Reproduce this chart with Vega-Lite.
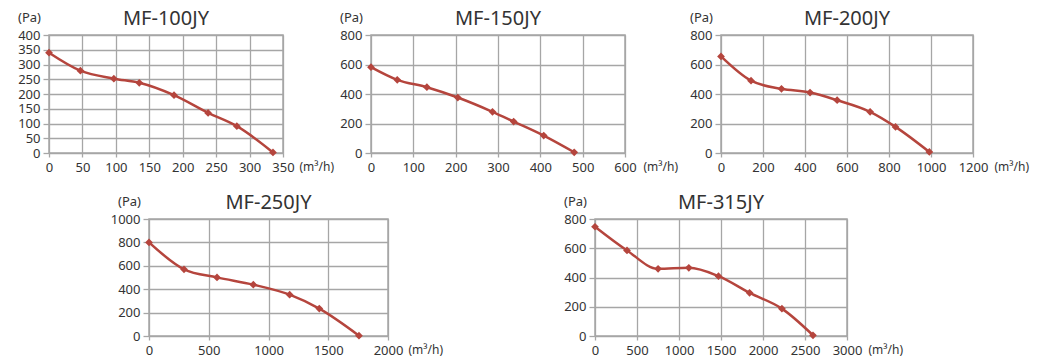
{
  "$schema": "https://vega.github.io/schema/vega-lite/v6.json",
  "padding": {"left": 9, "top": 8, "right": 0, "bottom": 0},
  "background": "white",
  "datasets": {
    "mf100": [
      {"flow": 0, "pressure": 340}, {"flow": 47, "pressure": 279}, {"flow": 97, "pressure": 252},
      {"flow": 135, "pressure": 238}, {"flow": 187, "pressure": 196}, {"flow": 238, "pressure": 136},
      {"flow": 281, "pressure": 91}, {"flow": 335, "pressure": 2}
    ],
    "mf150": [
      {"flow": 0, "pressure": 582}, {"flow": 62, "pressure": 496}, {"flow": 132, "pressure": 446},
      {"flow": 205, "pressure": 376}, {"flow": 287, "pressure": 279}, {"flow": 337, "pressure": 213},
      {"flow": 408, "pressure": 118}, {"flow": 480, "pressure": 5}
    ],
    "mf200": [
      {"flow": 0, "pressure": 655}, {"flow": 143, "pressure": 490}, {"flow": 288, "pressure": 435},
      {"flow": 424, "pressure": 410}, {"flow": 553, "pressure": 358}, {"flow": 710, "pressure": 279},
      {"flow": 831, "pressure": 177}, {"flow": 992, "pressure": 7}
    ],
    "mf250": [
      {"flow": 0, "pressure": 800}, {"flow": 293, "pressure": 570}, {"flow": 569, "pressure": 501},
      {"flow": 873, "pressure": 439}, {"flow": 1177, "pressure": 353}, {"flow": 1425, "pressure": 234},
      {"flow": 1757, "pressure": 3}
    ],
    "mf315": [
      {"flow": 0, "pressure": 747}, {"flow": 381, "pressure": 585}, {"flow": 751, "pressure": 459},
      {"flow": 1117, "pressure": 466}, {"flow": 1470, "pressure": 409}, {"flow": 1840, "pressure": 295},
      {"flow": 2225, "pressure": 187}, {"flow": 2595, "pressure": 5}
    ]
  },
  "vconcat": [
    {
      "bounds": "flush",
      "spacing": 0,
      "hconcat": [
        {"width": 40, "height": 118, "data": {"values": []}, "mark": "point", "encoding": {}, "view": {"stroke": null}},
        {
          "title": "MF-100JY",
          "width": 234, "height": 118,
          "data": {"name": "mf100"},
          "encoding": {
            "x": {"field": "flow", "type": "quantitative", "scale": {"domain": [0, 350], "nice": false},
              "axis": {"values": [0, 50, 100, 150, 200, 250, 300, 350], "title": "(m³/h)", "titleX": 250, "titleY": 8}},
            "y": {"field": "pressure", "type": "quantitative", "scale": {"domain": [0, 400], "nice": false},
              "axis": {"values": [0, 50, 100, 150, 200, 250, 300, 350, 400], "title": "(Pa)"}}
          },
          "layer": [
            {"mark": {"type": "line", "interpolate": "monotone", "color": "#b5453d", "strokeWidth": 2.5}},
            {"mark": {"type": "point", "shape": "diamond", "filled": true, "size": 60, "color": "#b5453d", "opacity": 1}}
          ]
        },
        {"width": 88, "height": 118, "data": {"values": []}, "mark": "point", "encoding": {}, "view": {"stroke": null}},
        {
          "title": "MF-150JY",
          "width": 254, "height": 118,
          "data": {"name": "mf150"},
          "encoding": {
            "x": {"field": "flow", "type": "quantitative", "scale": {"domain": [0, 600], "nice": false},
              "axis": {"values": [0, 100, 200, 300, 400, 500, 600], "title": "(m³/h)", "titleX": 272, "titleY": 8}},
            "y": {"field": "pressure", "type": "quantitative", "scale": {"domain": [0, 800], "nice": false},
              "axis": {"values": [0, 200, 400, 600, 800], "title": "(Pa)"}}
          },
          "layer": [
            {"mark": {"type": "line", "interpolate": "monotone", "color": "#b5453d", "strokeWidth": 2.5}},
            {"mark": {"type": "point", "shape": "diamond", "filled": true, "size": 60, "color": "#b5453d", "opacity": 1}}
          ]
        },
        {"width": 96, "height": 118, "data": {"values": []}, "mark": "point", "encoding": {}, "view": {"stroke": null}},
        {
          "title": "MF-200JY",
          "width": 252, "height": 118,
          "data": {"name": "mf200"},
          "encoding": {
            "x": {"field": "flow", "type": "quantitative", "scale": {"domain": [0, 1200], "nice": false},
              "axis": {"values": [0, 200, 400, 600, 800, 1000, 1200], "title": "(m³/h)", "titleX": 273, "titleY": 8}},
            "y": {"field": "pressure", "type": "quantitative", "scale": {"domain": [0, 800], "nice": false},
              "axis": {"values": [0, 200, 400, 600, 800], "title": "(Pa)"}}
          },
          "layer": [
            {"mark": {"type": "line", "interpolate": "monotone", "color": "#b5453d", "strokeWidth": 2.5}},
            {"mark": {"type": "point", "shape": "diamond", "filled": true, "size": 60, "color": "#b5453d", "opacity": 1}}
          ]
        }
      ]
    },
    {
      "bounds": "flush",
      "spacing": 0,
      "hconcat": [
        {"width": 140, "height": 117, "data": {"values": []}, "mark": "point", "encoding": {}, "view": {"stroke": null}},
        {
          "title": "MF-250JY",
          "width": 239, "height": 117,
          "data": {"name": "mf250"},
          "encoding": {
            "x": {"field": "flow", "type": "quantitative", "scale": {"domain": [0, 2000], "nice": false},
              "axis": {"values": [0, 500, 1000, 1500, 2000], "title": "(m³/h)", "titleX": 259, "titleY": 8}},
            "y": {"field": "pressure", "type": "quantitative", "scale": {"domain": [0, 1000], "nice": false},
              "axis": {"values": [0, 200, 400, 600, 800, 1000], "title": "(Pa)"}}
          },
          "layer": [
            {"mark": {"type": "line", "interpolate": "monotone", "color": "#b5453d", "strokeWidth": 2.5}},
            {"mark": {"type": "point", "shape": "diamond", "filled": true, "size": 60, "color": "#b5453d", "opacity": 1}}
          ]
        },
        {"width": 207, "height": 117, "data": {"values": []}, "mark": "point", "encoding": {}, "view": {"stroke": null}},
        {
          "title": "MF-315JY",
          "width": 252, "height": 117,
          "data": {"name": "mf315"},
          "encoding": {
            "x": {"field": "flow", "type": "quantitative", "scale": {"domain": [0, 3000], "nice": false},
              "axis": {"values": [0, 500, 1000, 1500, 2000, 2500, 3000], "title": "(m³/h)", "titleX": 273, "titleY": 8}},
            "y": {"field": "pressure", "type": "quantitative", "scale": {"domain": [0, 800], "nice": false},
              "axis": {"values": [0, 200, 400, 600, 800], "title": "(Pa)"}}
          },
          "layer": [
            {"mark": {"type": "line", "interpolate": "monotone", "color": "#b5453d", "strokeWidth": 2.5}},
            {"mark": {"type": "point", "shape": "diamond", "filled": true, "size": 60, "color": "#b5453d", "opacity": 1}}
          ]
        }
      ]
    }
  ],
  "spacing": 17,
  "config": {
    "font": "Noto Sans",
    "view": {"stroke": "#a6a6a6", "strokeWidth": 1.5},
    "axis": {
      "grid": true, "gridColor": "#a6a6a6", "gridWidth": 1.3, "gridOpacity": 1,
      "domain": false, "tickColor": "#a6a6a6", "tickWidth": 1.3, "format": "d",
      "labelFontSize": 13, "labelColor": "#333333", "labelFont": "Noto Sans",
      "labelOverlap": false, "labelFlush": false, "labelBound": false,
      "titleFontSize": 12, "titleFontWeight": "normal", "titleColor": "#333333", "titleFont": "Noto Sans",
      "titleAngle": 0
    },
    "axisX": {"tickSize": 4, "labelPadding": 4, "titleAlign": "left", "titleBaseline": "top", "titleAnchor": null},
    "axisY": {"tickSize": 6, "labelPadding": 3, "titleFontSize": 13, "titleX": -20, "titleY": -14, "titleAlign": "center", "titleBaseline": "alphabetic", "titleAnchor": null},
    "title": {"fontSize": 20, "fontWeight": "normal", "color": "#333333", "font": "Noto Sans", "frame": "group", "anchor": "middle", "baseline": "alphabetic", "offset": -18}
  }
}
